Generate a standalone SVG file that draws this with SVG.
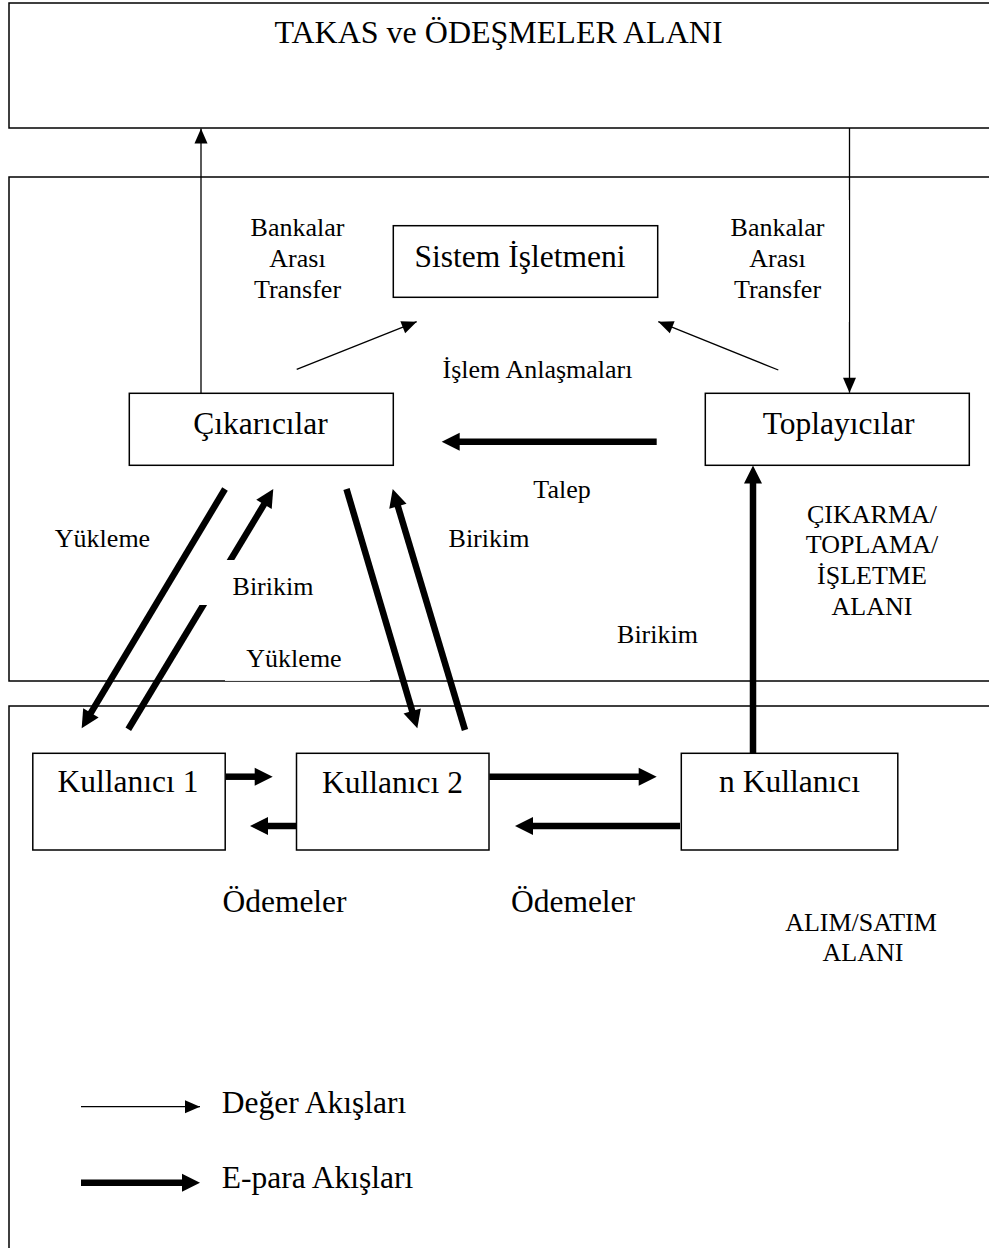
<svg xmlns="http://www.w3.org/2000/svg" width="989" height="1248" viewBox="0 0 989 1248">
<defs>
<style>
.box{fill:#fff;stroke:#000;stroke-width:1.5}
.area{fill:none;stroke:#000;stroke-width:1.5}
.t{font-family:"Liberation Serif","Times New Roman",serif;fill:#000;text-anchor:middle}
.big{font-size:31.5px}
.lab{font-size:26px}
.thin{stroke:#000;stroke-width:1.3;fill:none}
.thick{stroke:#000;stroke-width:6.5;fill:none}
.mask{fill:#fff;stroke:none}
</style>
<marker id="ah" markerUnits="userSpaceOnUse" markerWidth="16" markerHeight="14" refX="15" refY="6.5" orient="auto" overflow="visible">
<path d="M0,0 L15,6.5 L0,13 z" fill="#000"/>
</marker>
<marker id="ahb" markerUnits="userSpaceOnUse" markerWidth="20" markerHeight="20" refX="1" refY="9" orient="auto" overflow="visible">
<path d="M0,0 L18,9 L0,18 z" fill="#000"/>
</marker>
</defs>
<rect width="989" height="1248" fill="#fff"/>

<g id="takas-alani">
<rect class="area" x="9" y="3" width="1000" height="125"/>
<text class="t" x="498.5" y="43" font-size="32">TAKAS ve ÖDEŞMELER ALANI</text>
</g>
<g id="isletme-alani">
<rect class="area" x="9" y="177" width="1000" height="504"/>
</g>
<g id="alim-satim-alani">
<rect class="area" x="9" y="706" width="1000" height="600"/>
</g>

<g id="connectors">
<line class="thin" x1="201" y1="393" x2="201" y2="128.5" marker-end="url(#ah)"/>
<line class="thin" x1="849.5" y1="128" x2="849.5" y2="392.7" stroke-width="2.2" marker-end="url(#ah)"/>
<line class="thin" x1="296.7" y1="369.3" x2="416.7" y2="321.7" marker-end="url(#ah)"/>
<line class="thin" x1="778.3" y1="370" x2="658.3" y2="321.7" marker-end="url(#ah)"/>
<line class="thick" x1="656.7" y1="441.7" x2="458.7" y2="441.7" marker-end="url(#ahb)"/>
<line class="thick" x1="225" y1="489" x2="90.4" y2="713.7" marker-end="url(#ahb)"/>
<line class="thick" x1="128.3" y1="729.3" x2="264.5" y2="503.6" marker-end="url(#ahb)"/>
<line class="thick" x1="346.5" y1="489" x2="412.5" y2="712" marker-end="url(#ahb)"/>
<line class="thick" x1="465" y1="730" x2="397.6" y2="505.3" marker-end="url(#ahb)"/>
<line class="thick" x1="753" y1="753" x2="753" y2="482.5" marker-end="url(#ahb)"/>
<line class="thick" x1="226" y1="776.7" x2="255.7" y2="776.7" marker-end="url(#ahb)"/>
<line class="thick" x1="296.7" y1="826" x2="267" y2="826" marker-end="url(#ahb)"/>
<line class="thick" x1="489.3" y1="776.7" x2="639.7" y2="776.7" marker-end="url(#ahb)"/>
<line class="thick" x1="680" y1="826" x2="532" y2="826" marker-end="url(#ahb)"/>
</g>

<g id="labels">
<rect class="mask" x="720" y="200" width="128.8" height="122"/>
<text class="t lab" x="297.5" y="236">Bankalar</text>
<text class="t lab" x="297.5" y="266.5">Arası</text>
<text class="t lab" x="297.5" y="297.5">Transfer</text>
<text class="t lab" x="777.5" y="236">Bankalar</text>
<text class="t lab" x="777.5" y="266.5">Arası</text>
<text class="t lab" x="777.5" y="297.5">Transfer</text>
<text class="t lab" x="537.5" y="378">İşlem Anlaşmaları</text>
<text class="t lab" x="562" y="498">Talep</text>
<text class="t lab" x="102.5" y="547.3">Yükleme</text>
<rect class="mask" x="196" y="560" width="126" height="45"/>
<text class="t lab" x="273" y="595">Birikim</text>
<rect class="mask" x="225" y="648" width="145" height="32.9"/>
<text class="t lab" x="294" y="666.7">Yükleme</text>
<text class="t lab" x="489" y="547.3">Birikim</text>
<text class="t lab" x="657.5" y="642.7">Birikim</text>
<text class="t lab" x="872" y="523.3">ÇIKARMA/</text>
<text class="t lab" x="872" y="553">TOPLAMA/</text>
<text class="t lab" x="872" y="583.5">İŞLETME</text>
<text class="t lab" x="872" y="614.5">ALANI</text>
<text class="t big" x="284.5" y="912">Ödemeler</text>
<text class="t big" x="573" y="912">Ödemeler</text>
<text class="t lab" x="861" y="930.7">ALIM/SATIM</text>
<text class="t lab" x="863" y="961">ALANI</text>
</g>

<g id="sistem-isletmeni">
<rect class="box" x="393.3" y="225.7" width="264.4" height="71.6"/>
<text class="t big" x="520" y="266.7">Sistem İşletmeni</text>
</g>
<g id="cikaricilar">
<rect class="box" x="129.3" y="393.3" width="264" height="72"/>
<text class="t big" x="260.5" y="434">Çıkarıcılar</text>
</g>
<g id="toplayicilar">
<rect class="box" x="705.3" y="393.3" width="264" height="72"/>
<text class="t big" x="838.7" y="434">Toplayıcılar</text>
</g>
<g id="kullanici-1">
<rect class="box" x="32.8" y="753.3" width="192.4" height="96.7"/>
<text class="t big" x="128" y="792">Kullanıcı 1</text>
</g>
<g id="kullanici-2">
<rect class="box" x="296.5" y="753.3" width="192.5" height="96.7"/>
<text class="t big" x="392.5" y="792.5">Kullanıcı 2</text>
</g>
<g id="n-kullanici">
<rect class="box" x="681.3" y="753.3" width="216.5" height="96.7"/>
<text class="t big" x="789.5" y="792">n Kullanıcı</text>
</g>

<g id="legend">
<line class="thin" x1="81" y1="1106.7" x2="200" y2="1106.7" marker-end="url(#ah)"/>
<text class="t big" x="221.7" y="1113.3" text-anchor="start" style="text-anchor:start">Değer Akışları</text>
<line class="thick" x1="81" y1="1182.7" x2="183" y2="1182.7" marker-end="url(#ahb)"/>
<text class="t big" x="221.7" y="1188.3" style="text-anchor:start">E-para Akışları</text>
</g>
</svg>
